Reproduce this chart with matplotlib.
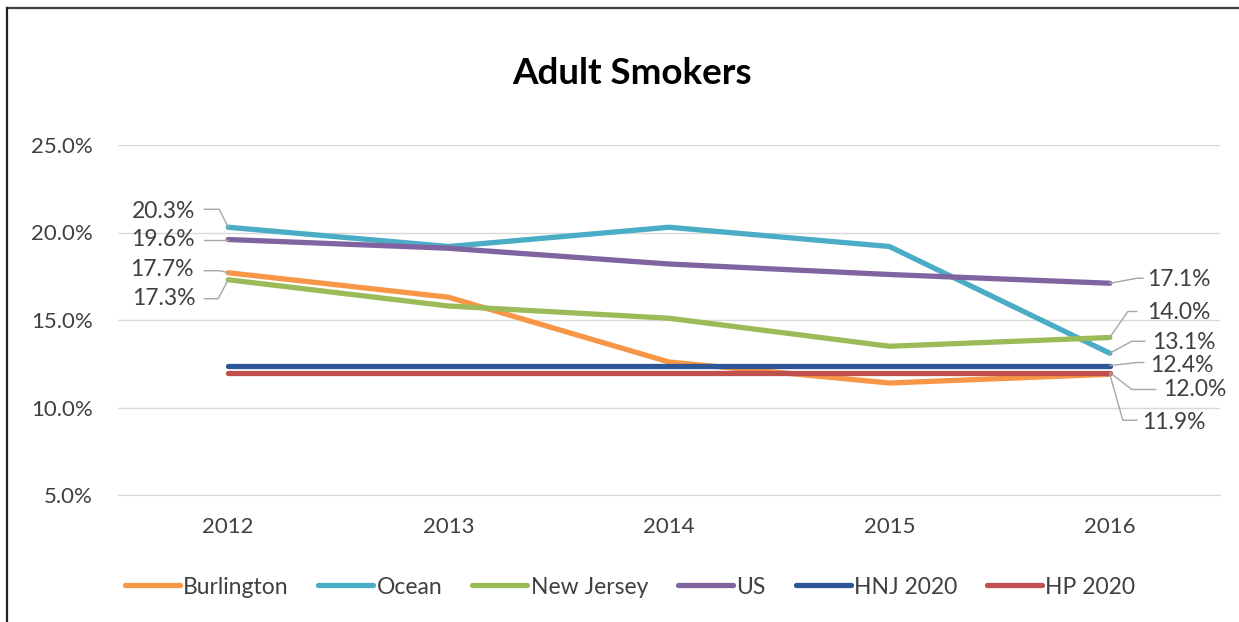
import matplotlib
matplotlib.use("Agg")
import matplotlib.pyplot as plt
import matplotlib.transforms as mtransforms
from matplotlib.lines import Line2D

plt.rcParams['font.family'] = ['Lato', 'DejaVu Sans']

years = ["2012", "2013", "2014", "2015", "2016"]
burlington = [17.7, 16.3, 12.6, 11.4, 11.9]
ocean = [20.3, 19.2, 20.3, 19.2, 13.1]
new_jersey = [17.3, 15.8, 15.1, 13.5, 14.0]
us = [19.6, 19.1, 18.2, 17.6, 17.1]
hnj_2020 = [12.4, 12.4, 12.4, 12.4, 12.4]
hp_2020 = [12.0, 12.0, 12.0, 12.0, 12.0]

series = [
    ("Burlington", burlington, "#F79646"),
    ("Ocean", ocean, "#4BACC6"),
    ("New Jersey", new_jersey, "#9BBB59"),
    ("US", us, "#8064A2"),
    ("HNJ 2020", hnj_2020, "#2C5696"),
    ("HP 2020", hp_2020, "#C0504D"),
]

W, H = 1239, 622
fig = plt.figure(figsize=(W / 100, H / 100), dpi=100)
ax = fig.add_axes([118 / W, 1 - 495 / H, (1220 - 118) / W, (495 - 145) / H])

x = list(range(len(years)))
for name, vals, color in series:
    ax.plot(x, vals, color=color, lw=3.8, label=name, solid_capstyle="round",
            solid_joinstyle="round", zorder=3)

ax.set_xlim(-0.5, len(years) - 0.5)
ax.set_ylim(5, 25)
ax.set_yticks([5, 10, 15, 20, 25])
ax.set_yticklabels([f"{v:.1f}%" for v in [5, 10, 15, 20, 25]])
ax.set_xticks(x)
ax.set_xticklabels(years)
ax.grid(axis="y", color="#D9D9D9", lw=1, zorder=0)
for side in ["left", "right", "top"]:
    ax.spines[side].set_visible(False)
ax.spines["bottom"].set_color("#D9D9D9")
ax.tick_params(axis="both", length=0, labelsize=16, colors="#404040")
ax.tick_params(axis="x", pad=16)
ax.tick_params(axis="y", pad=18)


def leader_transform(xv, yv):
    # pixel offsets relative to a data point
    return mtransforms.IdentityTransform() + mtransforms.ScaledTranslation(xv, yv, ax.transData)


# (series values, index, text offset px, alignment, leader path px)
labels = [
    (ocean, 0, (-33, 16), "right", [(0, 0), (-9, 18), (-24, 18)]),
    (us, 0, (-33, 0), "right", [(0, 0), (-24, 0)]),
    (burlington, 0, (-35, 3), "right", [(0, 0), (-8, 2), (-24, 2)]),
    (new_jersey, 0, (-33, -19), "right", [(0, 0), (-10, -19), (-24, -19)]),
    (us, 4, (37, 4), "left", [(0, 0), (27, 5), (33, 5)]),
    (new_jersey, 4, (37, 25), "left", [(0, 0), (18, 26), (27, 26)]),
    (hnj_2020, 4, (40, 0), "left", [(0, 0), (28, 3), (34, 3)]),
    (ocean, 4, (42, 11), "left", [(0, 0), (22, 12), (35, 12)]),
    (hp_2020, 4, (53, -17), "left", [(0, 0), (22, -17), (46, -17)]),
    (burlington, 4, (32, -48), "left", [(0, 0), (13, -46), (27, -46)]),
]
for vals, i, (dx, dy), ha, path in labels:
    v = vals[i]
    ax.annotate(f"{v:.1f}%", xy=(i, v), xytext=(dx, dy), textcoords="offset pixels",
                ha=ha, va="center", fontsize=16.5, color="#404040", zorder=5,
                annotation_clip=False)
    px = [p[0] for p in path]
    py = [p[1] for p in path]
    ax.add_line(Line2D(px, py, transform=leader_transform(i, v), color="#A6A6A6",
                       lw=1, zorder=4, clip_on=False))

fig.text(632 / W, 1 - 73 / H, "Adult Smokers", ha="center", va="center",
         fontsize=26.5, fontweight="bold", color="#000000")

leg = fig.legend(loc="center", bbox_to_anchor=(630 / W, 1 - 587 / H), ncol=6,
                 frameon=False, fontsize=16.5, handlelength=2.4, handletextpad=0.15,
                 columnspacing=1.3)
for t in leg.get_texts():
    t.set_color("#404040")
for h in leg.get_lines():
    h.set_linewidth(3.8)

# outer chart frame
fig.add_artist(Line2D([7 / W, 1.0], [1 - 8 / H, 1 - 8 / H], transform=fig.transFigure,
                      color="#404040", lw=1.6))
fig.add_artist(Line2D([7 / W, 7 / W], [0, 1 - 8 / H], transform=fig.transFigure,
                      color="#202020", lw=1.6))

fig.savefig("out.png", dpi=100, facecolor="white")
